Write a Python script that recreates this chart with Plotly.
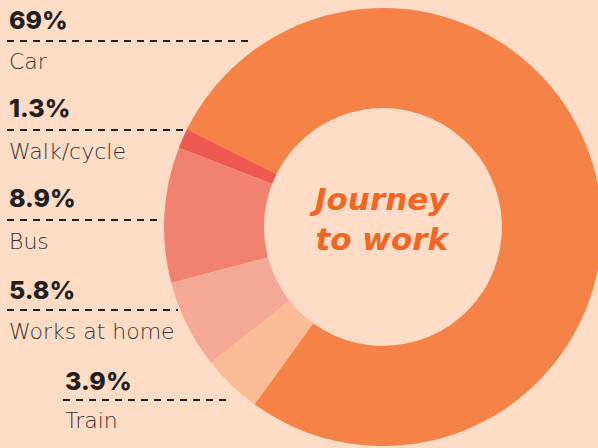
import plotly.graph_objects as go

# ------------------------------------------------------------------
# Data
# ------------------------------------------------------------------
modes = ["Car", "Walk/cycle", "Bus", "Works at home", "Train"]
shares = [69, 1.3, 8.9, 5.8, 3.9]
colours = ["#F58347", "#EE5A50", "#F1826F", "#F6A896", "#FABC94"]

BG = "#FEDCC6"
W, H = 604, 448

# label layout (pixels): left x, y of value text, y of dashed line, y of name, line end x
label_x = [7, 7, 7, 7, 63]
value_y = [20, 108, 198, 290, 381]
rule_y = [41, 130, 220, 310, 400]
name_y = [61, 151, 241, 331, 420]
rule_end = [252, 186, 161, 178, 230]


def px(x):
    return x / W


def py(y):
    return 1 - y / H


fig = go.Figure()

# ------------------------------------------------------------------
# Donut (runs slightly off the right edge, like the original)
# ------------------------------------------------------------------
fig.add_trace(go.Pie(
    labels=modes, values=shares,
    sort=False, direction="counterclockwise", rotation=-63.5,
    hole=0.543,
    marker=dict(colors=colours, line=dict(width=0)),
    textinfo="none",
    hovertemplate="%{label}: %{value}%<extra></extra>",
    domain=dict(x=[px(164), px(602)], y=[py(446), py(8)]),
    showlegend=False,
))

# ------------------------------------------------------------------
# Labels on the left
# ------------------------------------------------------------------
annotations = []
shapes = []
for i, m in enumerate(modes):
    annotations.append(dict(
        x=px(label_x[i]), y=py(value_y[i]), xref="paper", yref="paper",
        xanchor="left", yanchor="middle", showarrow=False,
        text=f"{shares[i]:g}%",
        font=dict(family="Inter", size=25, color="#231F20", weight=800),
    ))
    annotations.append(dict(
        x=px(label_x[i]), y=py(name_y[i]), xref="paper", yref="paper",
        xanchor="left", yanchor="middle", showarrow=False,
        text=m,
        font=dict(family="DejaVu Sans", size=22, color="#363636", weight=300),
    ))
    shapes.append(dict(
        type="line", xref="paper", yref="paper",
        x0=px(label_x[i]), x1=px(rule_end[i]),
        y0=py(rule_y[i]), y1=py(rule_y[i]),
        line=dict(color="#231F20", width=2, dash="7px,6px"),
    ))

# centre title
annotations.append(dict(
    x=px(380), y=py(219), xref="paper", yref="paper",
    xanchor="center", yanchor="middle", showarrow=False,
    text="<i>Journey<br>to work</i>",
    font=dict(family="DejaVu Sans", size=31, color="#F26522", weight=700),
))

fig.update_layout(
    width=W, height=H,
    paper_bgcolor=BG, plot_bgcolor=BG,
    margin=dict(l=0, r=0, t=0, b=0),
    annotations=annotations,
    shapes=shapes,
)

# drop the default page margin so the figure sits flush in the window
fig.write_html(
    "out.html",
    config=dict(displayModeBar=False),
    post_script=(
        "document.body.style.margin='0';"
        "document.body.style.overflow='hidden';"
        f"document.body.style.background='{BG}';"
    ),
)
